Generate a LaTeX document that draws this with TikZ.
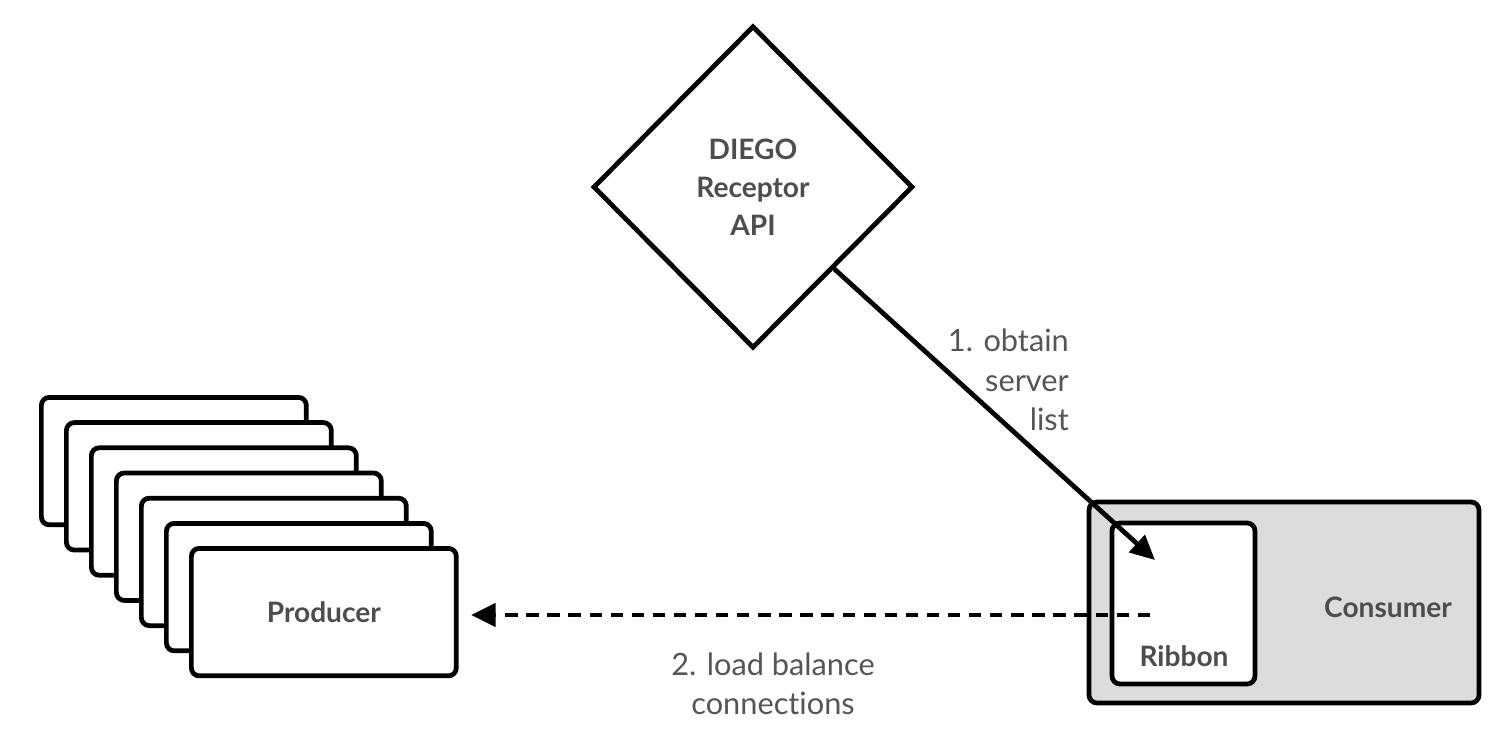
\documentclass[tikz,border=0pt]{standalone}
\usepackage{fontspec}
\setmainfont{Lato}[Ligatures=NoCommon]
\usetikzlibrary{arrows.meta}
\usetikzlibrary{shapes.geometric}

\definecolor{boxtext}{HTML}{4D4D4D}
\definecolor{labeltext}{HTML}{555555}
\definecolor{consumerfill}{HTML}{DCDCDC}

\begin{document}
\begin{tikzpicture}[x=0.02cm, y=-0.02cm,
    box/.style={draw, line width=2.7pt, rounded corners=4.5pt, fill=white},
    boxname/.style={text=boxtext, font=\fontsize{16}{21.5}\selectfont\bfseries, align=center},
    flowlabel/.style={text=labeltext, font=\fontsize{17.5}{22.5}\selectfont},
    bigarrow/.style={-{Triangle[length=14pt,width=13pt]}, line width=2.7pt}]

    \useasboundingbox (0,0) rectangle (1508,738);

    % discovery service
    \node[diamond, draw, line width=2.7pt, aspect=1, inner sep=0pt,
          minimum width=6.4cm, minimum height=6.45cm, boxname] (diego) at (753,187) {DIEGO\\Receptor\\API};

    % stack of producers
    \foreach \i in {0,...,5}
        \node[box, minimum width=5.3cm, minimum height=2.55cm, anchor=north west] (p\i) at (39+25*\i, 395+25.2*\i) {};
    \node[box, boxname, minimum width=5.3cm, minimum height=2.55cm, anchor=north west] (producer) at (189,546) {Producer};

    % consumer with ribbon
    \node[box, fill=consumerfill, minimum width=7.8cm, minimum height=4.02cm] (consumer) at (1284,602.5) {};
    \node[boxname] (consumerlabel) at (1388,607) {Consumer};
    \node[box, minimum width=2.86cm, minimum height=3.22cm] (ribbon) at (1183.5,603.5) {};
    \node[boxname] (ribbonlabel) at (1184,656) {Ribbon};

    \coordinate (serverlist) at (1155,560);
    \coordinate (balancer) at (1150,615);

    \draw[bigarrow] (diego.south east) -- (serverlist);
    \draw[bigarrow, dash pattern=on 7pt off 5pt, shorten >=7pt] (balancer) -- (producer.east |- balancer);

    \node[flowlabel, align=right, anchor=east] (obtainlabel) at (1075,380) {1. obtain\\server\\list};
    \node[flowlabel, align=center] (balancelabel) at (773,684) {2. load balance\\connections};

\end{tikzpicture}
\end{document}
